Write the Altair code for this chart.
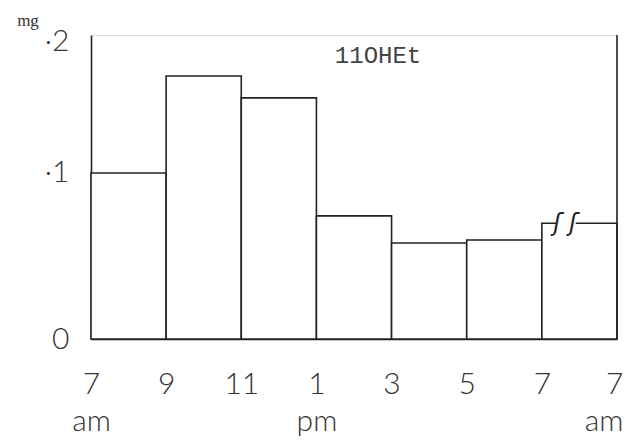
import altair as alt
import pandas as pd

# Two-hourly excretion of 11OHEt over 24 h (mg); last interval is the overnight collection
bin_start = [0, 1, 2, 3, 4, 5, 6]
bin_end = [1, 2, 3, 4, 5, 6, 7]
excretion_mg = [0.100, 0.173, 0.156, 0.070, 0.052, 0.054, 0.065]
hour_labels = ["7", "9", "11", "1", "3", "5", "7", "7"]
y_ticks = [0, 0.1, 0.2]

bars = pd.DataFrame({"start": bin_start, "end": bin_end, "mg": excretion_mg})

INK = "#222222"
TEXT = "#333333"
LABEL_FONT = "Lato"

x_scale = alt.Scale(domain=[0, 7], nice=False, zero=False)
y_scale = alt.Scale(type="pow", exponent=0.839, domain=[0, 0.2056], nice=False)

label_list = "[" + ",".join(f"'{h}'" for h in hour_labels) + "]"
x_label_expr = (
    f"datum.value == 0 || datum.value == 7 ? [{label_list}[datum.value], 'am'] : "
    f"datum.value == 3 ? [{label_list}[datum.value], 'pm'] : {label_list}[datum.value]"
)

x_axis = alt.Axis(
    values=list(range(8)), labelExpr=x_label_expr, title=None, ticks=False,
    grid=False, domainColor=INK, domainWidth=1.6, labelFont=LABEL_FONT,
    labelFontSize=30, labelLineHeight=37, labelColor=TEXT, labelPadding=30,
    labelFontWeight=300, labelFlush=False,
    labelAlign=alt.condition("datum.value == 7", alt.value("right"), alt.value("center")),
    labelOffset=alt.condition("datum.value == 7", alt.value(6), alt.value(0)),
)
y_axis = alt.Axis(
    values=y_ticks, title=None, ticks=False, grid=False, domainColor=INK,
    domainWidth=1.6, labelFont=LABEL_FONT, labelFontSize=30, labelColor=TEXT,
    labelPadding=22, labelFontWeight=300,
    labelExpr="datum.value == 0 ? '0' : '·' + format(datum.value * 10, 'd')",
)

hist = alt.Chart(bars).mark_rect(fill="white", stroke=INK, strokeWidth=1.6).encode(
    x=alt.X("start:Q", scale=x_scale, axis=x_axis),
    x2="end:Q",
    y=alt.Y("mg:Q", scale=y_scale, axis=y_axis),
    y2=alt.datum(0),
)

# closing vertical line at the right-hand 7 am
right_edge = alt.Chart(pd.DataFrame({"x": [7]})).mark_rule(color=INK, strokeWidth=1.6).encode(
    x=alt.X("x:Q", scale=x_scale),
    y=alt.datum(0),
    y2=alt.datum(0.2056),
)

# scale break on the overnight bar (interval 6 -> 7)
last_mg = excretion_mg[-1]
gap = alt.Chart(pd.DataFrame({"a": [6.19], "b": [6.45], "mg": [last_mg]})).mark_rule(
    color="white", strokeWidth=5
).encode(x=alt.X("a:Q", scale=x_scale), x2="b:Q", y=alt.Y("mg:Q", scale=y_scale))

squiggle = alt.Chart(pd.DataFrame({"x": [6.31], "mg": [last_mg], "t": ["ʃ ʃ"]})).mark_text(
    font="DejaVu Sans", fontSize=24, fontStyle="italic", color=INK, dy=1
).encode(x=alt.X("x:Q", scale=x_scale), y=alt.Y("mg:Q", scale=y_scale), text="t:N")

title_txt = alt.Chart(pd.DataFrame({"x": [3.82], "mg": [0.189], "t": ["11OHEt"]})).mark_text(
    font="Liberation Mono", fontSize=24, color="#444444"
).encode(x=alt.X("x:Q", scale=x_scale), y=alt.Y("mg:Q", scale=y_scale), text="t:N")

unit_txt = alt.Chart(pd.DataFrame({"t": ["mg"]})).mark_text(
    font="Liberation Serif", fontSize=17, color=TEXT
).encode(x=alt.value(-63), y=alt.value(-14), text="t:N")

chart = (
    alt.layer(hist, right_edge, gap, squiggle, title_txt, unit_txt)
    .properties(
        width=526, height=304,
        autosize=alt.AutoSizeParams(type="none"),
        padding={"left": 91, "top": 35, "right": 16, "bottom": 104},
    )
    .configure_view(stroke=None)
    .configure(background="white")
)

chart.save("out.html", embed_options={"renderer": "svg", "actions": False})
